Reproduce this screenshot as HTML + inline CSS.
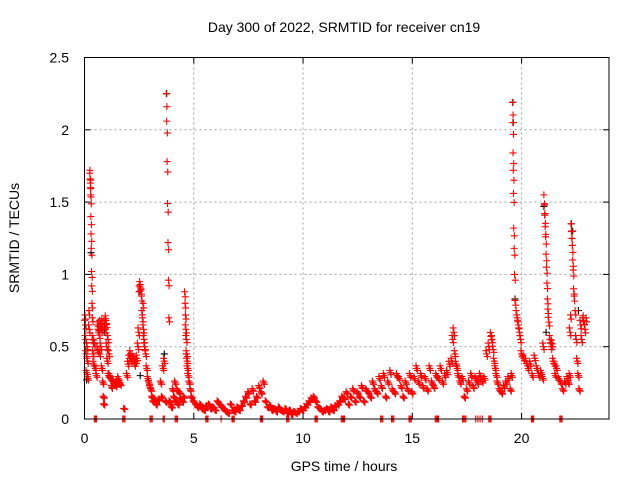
<!DOCTYPE html>
<html><head><meta charset="utf-8"><style>
body{margin:0;background:#fff;}
svg{display:block;font-family:"Liberation Sans",sans-serif;}
</style></head><body>
<svg id="chart" width="640" height="480">
<text x="344" y="32" font-size="14" text-anchor="middle">Day 300 of 2022, SRMTID for receiver cn19</text>
<text x="344" y="471" font-size="14" text-anchor="middle">GPS time / hours</text>
<text transform="translate(19,238) rotate(-90)" font-size="14" text-anchor="middle">SRMTID / TECUs</text>
<g id="grid"></g><g id="ticks"></g><g id="black"></g><g id="red"></g>
<rect x="84.5" y="57.5" width="524.5" height="361.5" fill="none" stroke="#000"/>
</svg>
<script>
const xTicks=[0,5,10,15,20];
const yTicks=[0,0.5,1,1.5,2,2.5];
const yTickLabels=["0","0.5","1","1.5","2","2.5"];
const redT=[0.02,0.04,0.06,0.08,0.1,0.12,0.14,0.16,0.2,0.22,0.24,0.25,0.26,0.27,0.28,0.29,0.3,0.31,0.32,0.33,0.34,0.36,0.38,0.4,0.42,0.45,0.5,0.55,0.6,0.62,0.65,0.68,0.7,0.72,0.75,0.78,0.8,0.82,0.85,0.88,0.9,0.92,0.95,0.98,1.0,1.02,1.05,1.08,1.1,1.12,1.15,1.2,1.25,1.3,1.35,1.4,1.45,1.5,1.55,1.6,1.65,1.82,1.95,2.0,2.05,2.1,2.15,2.2,2.25,2.3,2.35,2.4,2.45,2.48,2.5,2.52,2.55,2.58,2.6,2.62,2.65,2.68,2.7,2.72,2.75,2.8,2.85,2.9,2.95,3.0,3.05,3.1,3.15,3.2,3.3,3.4,3.5,3.55,3.6,3.65,3.72,3.74,3.76,3.78,3.8,3.82,3.84,3.86,3.9,3.95,4.0,4.05,4.1,4.15,4.2,4.25,4.3,4.35,4.4,4.5,4.55,4.58,4.6,4.62,4.64,4.66,4.68,4.7,4.72,4.75,4.8,4.85,4.9,5.0,5.1,5.2,5.3,5.4,5.5,5.6,5.7,5.8,5.9,6.0,6.1,6.2,6.3,6.4,6.5,6.6,6.7,6.8,6.9,7.0,7.1,7.2,7.3,7.4,7.5,7.6,7.7,7.8,7.9,8.0,8.1,8.2,8.3,8.4,8.5,8.6,8.7,8.8,8.9,9.0,9.1,9.2,9.3,9.4,9.5,9.6,9.7,9.8,9.9,10.0,10.1,10.2,10.3,10.4,10.5,10.6,10.7,10.8,10.9,11.0,11.1,11.2,11.3,11.4,11.5,11.6,11.7,11.8,11.9,12.0,12.1,12.2,12.3,12.4,12.5,12.6,12.7,12.8,12.9,13.0,13.1,13.2,13.3,13.4,13.5,13.6,13.7,13.8,13.9,14.0,14.1,14.2,14.3,14.4,14.5,14.6,14.7,14.8,14.9,15.0,15.1,15.2,15.3,15.4,15.5,15.6,15.7,15.8,15.9,16.0,16.1,16.2,16.3,16.4,16.5,16.6,16.7,16.8,16.85,16.9,16.95,17.0,17.05,17.1,17.2,17.3,17.4,17.5,17.6,17.7,17.8,17.9,18.0,18.1,18.2,18.3,18.4,18.5,18.6,18.65,18.7,18.75,18.8,18.85,18.9,19.0,19.1,19.2,19.3,19.4,19.5,19.55,19.58,19.6,19.61,19.62,19.63,19.64,19.66,19.68,19.7,19.75,19.8,19.85,19.9,19.95,20.0,20.1,20.2,20.3,20.4,20.5,20.6,20.7,20.8,20.9,20.98,21.0,21.02,21.04,21.06,21.08,21.1,21.12,21.14,21.16,21.18,21.2,21.25,21.3,21.35,21.4,21.45,21.5,21.55,21.6,21.7,21.8,21.9,22.0,22.1,22.15,22.2,22.22,22.24,22.26,22.28,22.3,22.32,22.34,22.36,22.38,22.4,22.45,22.5,22.55,22.6,22.65,22.7,22.75,22.8,22.85,22.9,22.95];
const redV=[0.72,0.65,0.55,0.45,0.32,0.5,0.4,0.28,0.75,0.62,1.7,1.72,1.66,1.6,1.55,1.4,1.28,1.18,1.02,0.92,0.8,0.7,0.55,0.45,0.38,0.52,0.35,0.3,0.48,0.62,0.64,0.58,0.45,0.65,0.5,0.62,0.35,0.66,0.25,0.15,0.1,0.65,0.62,0.68,0.66,0.5,0.4,0.55,0.3,0.45,0.3,0.28,0.22,0.26,0.25,0.24,0.23,0.26,0.28,0.25,0.24,0.07,0.3,0.38,0.42,0.45,0.4,0.43,0.4,0.38,0.4,0.42,0.5,0.6,0.92,0.95,0.93,0.9,0.85,0.75,0.7,0.8,0.62,0.55,0.5,0.45,0.35,0.28,0.25,0.22,0.2,0.15,0.12,0.14,0.1,0.13,0.25,0.15,0.35,0.4,0.12,2.25,2.06,1.78,1.49,1.22,0.96,0.7,0.12,0.1,0.08,0.2,0.15,0.25,0.12,0.2,0.1,0.18,0.14,0.12,0.15,0.88,0.8,0.72,0.62,0.55,0.45,0.4,0.35,0.3,0.25,0.2,0.15,0.12,0.1,0.08,0.1,0.07,0.06,0.09,0.1,0.07,0.08,0.06,0.12,0.1,0.08,0.07,0.05,0.04,0.1,0.06,0.05,0.08,0.06,0.09,0.12,0.15,0.18,0.1,0.2,0.12,0.15,0.22,0.18,0.25,0.12,0.08,0.09,0.06,0.07,0.05,0.08,0.06,0.05,0.07,0.04,0.06,0.03,0.05,0.04,0.05,0.07,0.06,0.08,0.1,0.12,0.14,0.15,0.12,0.08,0.07,0.05,0.06,0.07,0.05,0.08,0.06,0.09,0.1,0.12,0.15,0.14,0.18,0.1,0.15,0.2,0.12,0.18,0.15,0.22,0.12,0.2,0.18,0.15,0.25,0.2,0.18,0.28,0.22,0.3,0.15,0.25,0.32,0.2,0.18,0.3,0.28,0.22,0.15,0.25,0.2,0.3,0.18,0.28,0.35,0.25,0.3,0.22,0.28,0.2,0.35,0.25,0.22,0.3,0.28,0.35,0.25,0.3,0.32,0.38,0.4,0.55,0.6,0.45,0.38,0.35,0.3,0.25,0.28,0.15,0.2,0.25,0.3,0.22,0.28,0.25,0.3,0.26,0.28,0.45,0.5,0.57,0.55,0.48,0.4,0.35,0.3,0.25,0.2,0.18,0.22,0.25,0.28,0.2,0.3,2.19,2.05,1.84,1.72,1.56,1.32,1.18,1.0,0.82,0.75,0.7,0.65,0.6,0.55,0.45,0.42,0.4,0.35,0.38,0.3,0.42,0.35,0.3,0.32,0.28,0.5,1.55,1.48,1.41,1.33,1.26,1.14,1.05,0.94,0.83,0.76,0.67,0.55,0.5,0.52,0.4,0.38,0.3,0.35,0.28,0.25,0.2,0.25,0.28,0.25,0.3,0.6,0.72,1.35,1.3,1.25,1.2,1.1,1.03,0.9,0.85,0.75,0.55,0.4,0.3,0.2,0.65,0.55,0.7,0.68,0.62,0.7,0.5,0.35,0.28,0.25];
const blackT=[0.1,0.3,0.9,2.5,2.55,3.65,3.76,4.65,19.6,19.62,19.7,21.02,21.06,21.12,22.28,22.34,22.6];
const blackV=[0.27,1.15,0.6,0.88,0.3,0.45,2.25,0.45,2.19,2.05,0.83,1.47,1.41,0.6,1.35,1.3,0.75];
const zeroT=[0.45,0.5,0.55,1.75,1.8,1.85,3.0,3.05,3.1,3.6,3.65,4.15,4.2,4.25,5.55,5.6,5.65,6.25,6.75,6.8,6.85,8.05,8.1,8.15,9.25,9.3,9.35,10.55,10.6,10.65,11.75,11.8,11.85,11.9,13.55,13.6,13.65,14.05,14.1,14.15,14.85,14.9,14.95,16.05,16.1,16.15,16.2,17.3,17.35,17.4,17.45,17.9,18.0,18.1,18.2,18.5,18.55,18.6,20.45,20.5,20.55,21.75,21.8,21.85];
const X=t=>84.5+t*(524.5/24);
const Y=v=>419-v*(361.5/2.5);
const NS="http://www.w3.org/2000/svg";
const grid=document.getElementById('grid'),ticks=document.getElementById('ticks');
function mk(tag,attrs,parent){const e=document.createElementNS(NS,tag);for(const k in attrs)e.setAttribute(k,attrs[k]);parent.appendChild(e);return e;}
xTicks.forEach((t,i)=>{
  const x=X(t);
  if(i>0){const g=mk('line',{x1:x,x2:x,y1:57.5,y2:419,stroke:'#a0a0a0','stroke-dasharray':'2,3'},grid);
  
  }
  mk('line',{x1:x,x2:x,y1:419,y2:413,stroke:'#000'},ticks);
  mk('line',{x1:x,x2:x,y1:57.5,y2:63.5,stroke:'#000'},ticks);
  const l=mk('text',{x:x,y:443,'font-size':14,'text-anchor':'middle'},ticks);l.textContent=t;
  
  
});
yTicks.forEach((v,i)=>{
  const y=Y(v);
  if(i>0&&i<yTicks.length-1){const g=mk('line',{x1:84.5,x2:609,y1:y,y2:y,stroke:'#a0a0a0','stroke-dasharray':'2,3'},grid);
  
  }
  mk('line',{x1:84.5,x2:90.5,y1:y,y2:y,stroke:'#000'},ticks);
  mk('line',{x1:609,x2:603,y1:y,y2:y,stroke:'#000'},ticks);
  const l=mk('text',{x:69,y:y+5,'font-size':14,'text-anchor':'end'},ticks);l.textContent=yTickLabels[i];
  
  
});
function cross(t,v,color,parent){
  const x=X(t),y=Y(v);
  return mk('path',{d:`M${x-3.5},${y}h7M${x},${y-3.5}v7`,stroke:color,'stroke-width':1.1,fill:'none'},parent);
}
const blk=document.getElementById('black'),red=document.getElementById('red');
blackT.forEach((t,i)=>{const p=cross(t,blackV[i],'#000',blk);
  
  });
redT.forEach((t,i)=>{
  const p=cross(t,redV[i],'#f00',red);
  
  
  const q=cross(t+0.03,redV[i]*0.96,'#f00',red);
  
  
  if(redV[i]<0.7){const r=cross(t-0.03,redV[i]*1.05,'#f00',red);
  
  }
});
zeroT.forEach(t=>{const p=cross(t,0,'#f00',red);
  
  });
</script>
</body></html>
